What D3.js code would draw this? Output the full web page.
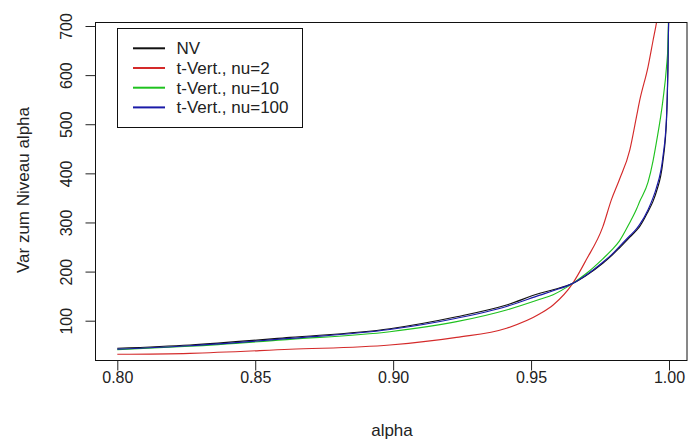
<!DOCTYPE html>
<html>
  <head>
    <meta charset="utf-8">
    <title>VaR zum Niveau alpha</title>
    <script src="https://cdn.jsdelivr.net/npm/d3@7"></script>
    <style>
      body { margin: 0; background: #fff; }
      svg { display: block; font-family: "Liberation Sans", Arial, sans-serif; }
      .axis text { font-size: 16px; fill: #222; }
      .axis line { stroke: #222; }
      .axis path { display: none; }
      .curve { fill: none; stroke-width: 1.15; stroke-linejoin: round; }
    </style>
  </head>

  <body>
    <svg id="chart" width="688" height="445"></svg>

    <script>
      // data
      alphas = [0.80, 0.8263, 0.8626, 0.8988, 0.923, 0.9411, 0.9532, 0.958, 0.9651, 0.970, 0.976, 0.9791, 0.982, 0.9858, 0.9882, 0.9894, 0.9924, 0.9942, 0.9954, 0.9978, 0.9991, 0.9996, 1.0];
      nv     = [43.8, 50.5, 66, 83.7, 108, 132, 155.8, 163, 176, 192, 217, 232, 248, 270, 284, 292, 322, 343, 362, 425, 508, 610, 760];
      t2     = [31.6, 33.6, 41.8, 50.5, 66, 84.5, 114, 132, 176, 224, 291, 346, 387, 448, 515, 549, 617, 670, 705, 800, 850, 870, 900];
      t10    = [41, 48, 62, 77.6, 98, 121.8, 143.6, 153, 176, 196, 226, 243, 262, 300, 327, 343, 382, 425, 462, 549, 617, 660, 760];
      t100   = [42, 49, 64, 82, 105, 129, 152, 161, 176, 193, 219, 234, 251, 273, 287, 296, 326, 350, 370, 434, 515, 617, 760];
      seriesNames = ["NV", "t-Vert., nu=2", "t-Vert., nu=10", "t-Vert., nu=100"];
      seriesColours = ["#111111", "#d42a2a", "#1fc21f", "#1a1aa8"];
      xTicks = [0.80, 0.85, 0.90, 0.95, 1.00];
      yTicks = [100, 200, 300, 400, 500, 600, 700];

      svg = d3.select("#chart");

      // plot region
      box = { left: 95.5, right: 687, top: 22.5, bottom: 360.5 };
      x = d3.scaleLinear().domain([0.8, 1.0]).range([117.3, 669]);
      y = d3.scaleLinear().domain([100, 700]).range([320.7, 26]);

      svg.append("clipPath")
          .attr("id", "clip")
        .append("rect")
          .attr("x", box.left)
          .attr("y", box.top)
          .attr("width", box.right - box.left)
          .attr("height", box.bottom - box.top);

      // lines
      line = d3.line()
        .curve(d3.curveMonotoneX)
        .x(function(d) { return x(d[0]); })
        .y(function(d) { return y(d[1]); });
      allSeries = [nv, t2, t10, t100];
      plot = svg.append("g").attr("clip-path", "url(#clip)");
      allSeries.forEach(function(s, i) {
        plot.append("path")
          .classed("curve", true)
          .attr("stroke", seriesColours[i])
          .attr("d", line(alphas.map(function(a, j) { return [a, s[j]]; })));
      });

      // frame
      svg.append("rect")
        .attr("x", box.left)
        .attr("y", box.top)
        .attr("width", box.right - box.left)
        .attr("height", box.bottom - box.top)
        .attr("fill", "none")
        .attr("stroke", "#111");

      // axes
      svg.append("g")
        .classed("axis", true)
        .attr("transform", "translate(0," + box.bottom + ")")
        .call(d3.axisBottom(x).tickValues(xTicks).tickFormat(d3.format(".2f")).tickSize(10).tickPadding(1));

      yAxis = svg.append("g")
        .classed("axis", true)
        .attr("transform", "translate(" + box.left + ",0)")
        .call(d3.axisLeft(y).tickValues(yTicks).tickFormat(d3.format("d")).tickSize(10));
      yAxis.selectAll("text")
        .attr("transform", "rotate(-90)")
        .attr("x", 0)
        .attr("y", -23.5)
        .attr("dy", 0)
        .attr("text-anchor", "middle");

      // axis titles
      svg.append("text")
        .attr("x", 392)
        .attr("y", 436)
        .attr("text-anchor", "middle")
        .attr("font-size", 17)
        .attr("fill", "#222")
        .text("alpha");
      svg.append("text")
        .attr("transform", "translate(28.5,190) rotate(-90)")
        .attr("text-anchor", "middle")
        .attr("font-size", 17)
        .attr("fill", "#222")
        .text("Var zum Niveau alpha");

      // legend
      legend = svg.append("g");
      legend.append("rect")
        .attr("x", 117.5)
        .attr("y", 28.5)
        .attr("width", 185)
        .attr("height", 99)
        .attr("fill", "#fff")
        .attr("stroke", "#111");
      seriesNames.forEach(function(name, i) {
        var ly = 48.3 + i * 19.7;
        legend.append("line")
          .attr("x1", 133).attr("x2", 165)
          .attr("y1", ly).attr("y2", ly)
          .attr("stroke", seriesColours[i])
          .attr("stroke-width", 2);
        legend.append("text")
          .attr("x", 176.5)
          .attr("y", ly)
          .attr("dy", "0.35em")
          .attr("font-size", 17)
          .attr("fill", "#222")
          .text(name);
      });
    </script>
  </body>
</html>
